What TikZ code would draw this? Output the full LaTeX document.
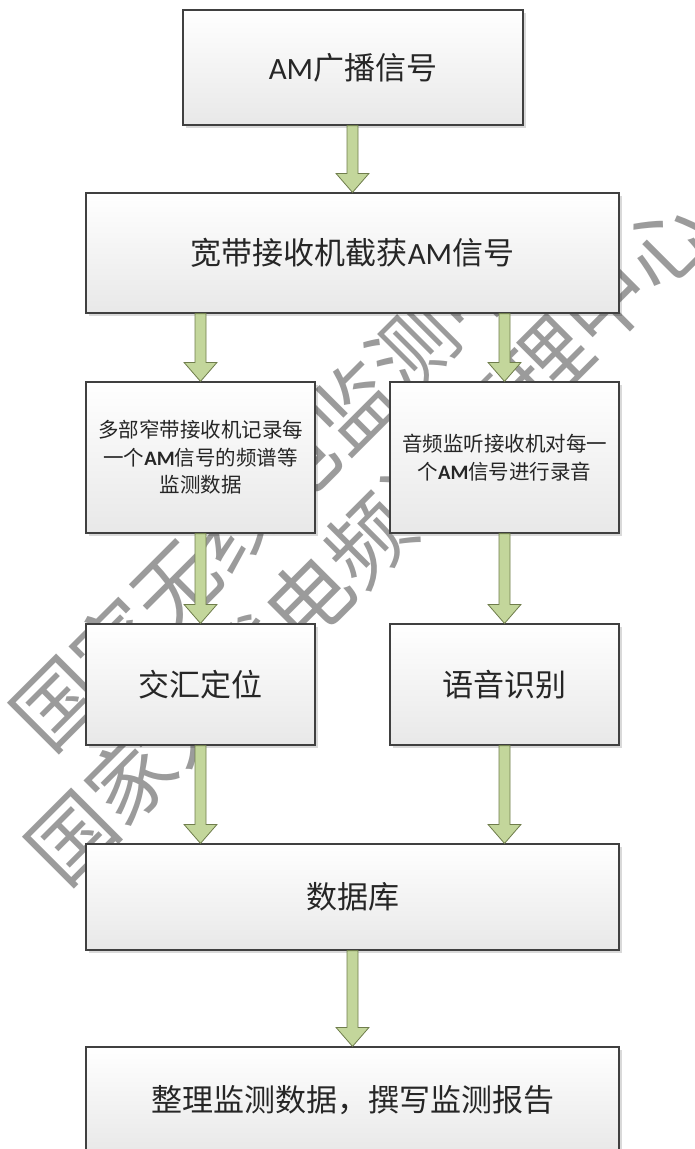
\documentclass[tikz,border=0pt]{standalone}
\usepackage{fontspec}
\setmainfont{Noto Sans CJK SC}
\newfontfamily\latinfont{Carlito}
\usetikzlibrary{calc,shadows}
\definecolor{arrowfill}{HTML}{C3D69B}
\definecolor{arrowline}{HTML}{6F7D4C}
\definecolor{boxline}{HTML}{404040}
\definecolor{wmgray}{RGB}{155,155,155}
\definecolor{txtcol}{HTML}{262626}
\newcommand{\amtxt}{{\latinfont AM}}
\newcommand{\amb}{{\latinfont\bfseries AM}}
\newcommand{\blockarrow}[2]{%
  \draw[blockarr] let \p1=(#1), \p2=(#2) in
    (\x2-5.5pt,\y1) -- (\x2+5.5pt,\y1) -- (\x2+5.5pt,\y2+19pt) -- (\x2+16.5pt,\y2+19pt)
    -- (\x2,\y2) -- (\x2-16.5pt,\y2+19pt) -- (\x2-5.5pt,\y2+19pt) -- cycle;}
\tikzset{
  box/.style={draw=boxline, line width=1.2pt, top color=white, bottom color=black!9,
    drop shadow={shadow xshift=2.5pt, shadow yshift=-2.5pt, fill=black, opacity=0.15},
    text=txtcol, inner sep=0pt},
  bigtext/.style={font=\fontsize{31}{36}\selectfont},
  smalltext/.style={font=\fontsize{20.5}{27.5}\selectfont, align=center},
  blockarr/.style={draw=arrowline, fill=arrowfill, line width=0.8pt, line join=miter},
  watermark/.style={text=wmgray, font=\fontsize{84}{105}\selectfont, align=center,
    rotate=45, inner sep=0pt}
}
\begin{document}
\begin{tikzpicture}[x=1pt,y=-1pt]
\useasboundingbox (0,0) rectangle (694,1149);
\clip (0,0) rectangle (694,1149);
\fill[white] (0,0) rectangle (694,1149);
% watermark
\node[watermark] (wm) at (331,503) {国家无线电监测中心\\国家无线电频谱管理中心};
% boxes
\node[box, bigtext, minimum width=340pt, minimum height=115pt] (b1) at (353,67.5) {\amtxt 广播信号};
\node[box, bigtext, minimum width=533pt, minimum height=120pt] (b2) at (352.5,253) {宽带接收机截获\amtxt 信号};
\node[box, smalltext, minimum width=229pt, minimum height=151pt] (b3l) at (200.5,457.5) {多部窄带接收机记录每\\一个\amb 信号的频谱等\\监测数据};
\node[box, smalltext, minimum width=229pt, minimum height=151pt] (b3r) at (504.5,457.5) {音频监听接收机对每一\\个\amb 信号进行录音};
\node[box, bigtext, minimum width=229pt, minimum height=121pt] (b4l) at (200.5,684.5) {交汇定位};
\node[box, bigtext, minimum width=229pt, minimum height=121pt] (b4r) at (504.5,684.5) {语音识别};
\node[box, bigtext, minimum width=533pt, minimum height=106pt] (b5) at (352.5,897) {数据库};
\node[box, bigtext, minimum width=533pt, minimum height=106pt] (b6) at (352.5,1100) {整理监测数据，撰写监测报告};
% arrows
\blockarrow{b1.south}{b2.north}
\blockarrow{b2.south -| b3l.north}{b3l.north}
\blockarrow{b2.south -| b3r.north}{b3r.north}
\blockarrow{b3l.south}{b4l.north}
\blockarrow{b3r.south}{b4r.north}
\blockarrow{b4l.south}{b5.north -| b4l.south}
\blockarrow{b4r.south}{b5.north -| b4r.south}
\blockarrow{b5.south}{b6.north}
\end{tikzpicture}
\end{document}
